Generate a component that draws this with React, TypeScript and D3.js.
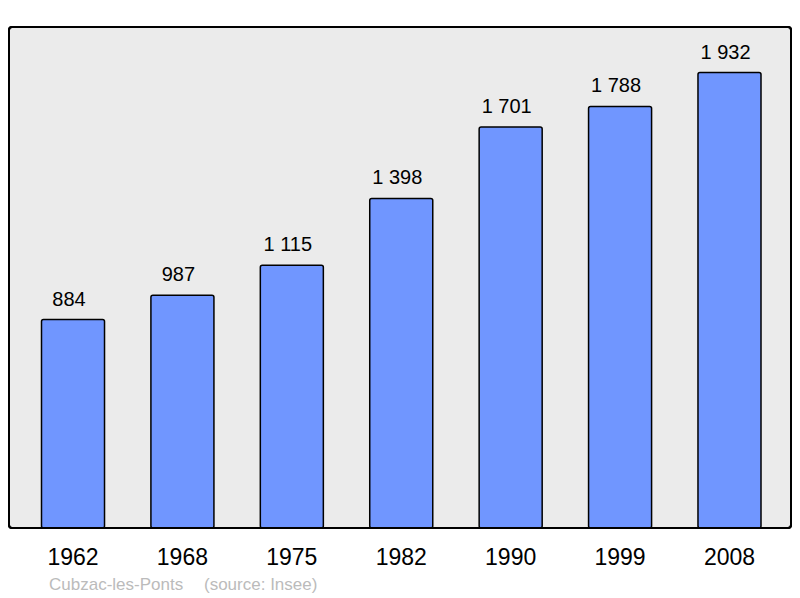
import React from "react";
import * as d3 from "d3";

const years = ["1962", "1968", "1975", "1982", "1990", "1999", "2008"];
const population = [884, 987, 1115, 1398, 1701, 1788, 1932];
const valueLabels = ["884", "987", "1 115", "1 398", "1 701", "1 788", "1 932"];
const townName = "Cubzac-les-Ponts";
const sourceText = "(source: Insee)";

const W = 800;
const H = 598;
const frame = { left: 9, top: 27, right: 791, bottom: 528 };
const font = "'Liberation Sans', Arial, sans-serif";

export default function App() {
  const x = d3
    .scaleBand<string>()
    .domain(years)
    .range([41.5, 761])
    .paddingInner(0.424)
    .paddingOuter(0);
  const yMax = (d3.max(population) as number) * 1.1;
  const y = d3.scaleLinear().domain([0, yMax]).range([frame.bottom, frame.top]);

  return (
    <svg
      width={W}
      height={H}
      style={{ position: "absolute", left: 0, top: 0 }}
    >
      <rect x={0} y={0} width={W} height={H} fill="#ffffff" />
      <rect
        x={frame.left}
        y={frame.top}
        width={frame.right - frame.left}
        height={frame.bottom - frame.top}
        rx={3}
        fill="#ebebeb"
        stroke="#000"
        strokeWidth={2}
      />
      {years.map((yr, i) => {
        const bx = x(yr) as number;
        const top = y(population[i]);
        return (
          <g key={yr}>
            <rect
              x={bx}
              y={top}
              width={x.bandwidth()}
              height={frame.bottom - top}
              rx={2}
              fill="#7096ff"
              stroke="#000"
              strokeWidth={1.5}
            />
            <text
              x={bx + x.bandwidth() / 2 - 4}
              y={top - 14}
              textAnchor="middle"
              fontFamily={font}
              fontSize={20}
              fill="#000"
            >
              {valueLabels[i]}
            </text>
            <text
              x={bx + x.bandwidth() / 2}
              y={565}
              textAnchor="middle"
              fontFamily={font}
              fontSize={23}
              fill="#000"
            >
              {yr}
            </text>
          </g>
        );
      })}
      <rect
        x={frame.left}
        y={frame.top}
        width={frame.right - frame.left}
        height={frame.bottom - frame.top}
        rx={3}
        fill="none"
        stroke="#000"
        strokeWidth={2}
      />
      <text x={49} y={590} fontFamily={font} fontSize={17} fill="#bbbbbb">
        {townName}
      </text>
      <text x={204} y={590} fontFamily={font} fontSize={17} fill="#bbbbbb">
        {sourceText}
      </text>
    </svg>
  );
}
